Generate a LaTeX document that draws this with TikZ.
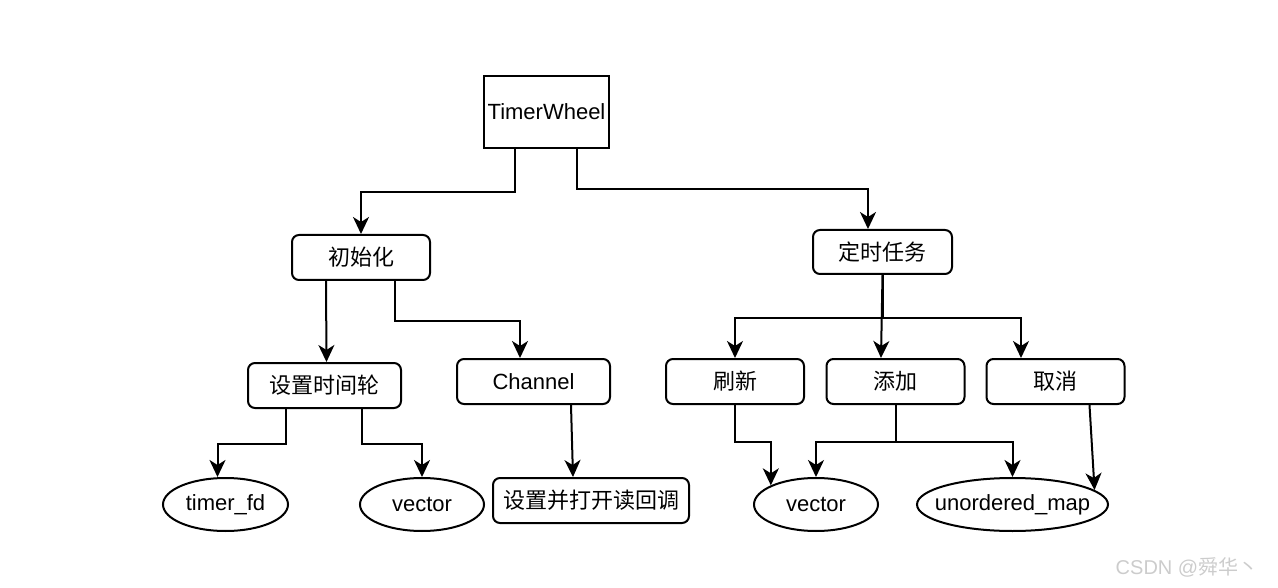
\documentclass[tikz,border=0pt]{standalone}
\usepackage{fontspec}
\setmainfont{Liberation Sans}
\newfontfamily\cjk{Noto Sans CJK SC}
\usetikzlibrary{arrows.meta,shapes.geometric}
\begin{document}
\begin{tikzpicture}[x=1pt,y=-1pt,
  every node/.style={font=\fontsize{22}{26}\selectfont, text=black},
  sqbox/.style={draw, line width=2pt, inner sep=0pt},
  box/.style={draw, line width=2pt, rounded corners=7pt, inner sep=0pt, minimum width=138pt, minimum height=45pt},
  oval/.style={draw, ellipse, line width=2pt, inner sep=0pt, minimum width=124pt, minimum height=53pt},
  conn/.style={line width=2pt, line join=miter, -{Stealth[length=17pt,width=16pt,inset=5pt]}}
]
\useasboundingbox (0,0) rectangle (1278,588);

\node[sqbox, minimum width=125pt, minimum height=72pt] (tw) at (546.5,112) {TimerWheel};
\node[box] (init) at (361,257.5) {\cjk 初始化};
\node[box, minimum width=139pt, minimum height=44pt] (task) at (882.5,252) {\cjk 定时任务};
\node[box, minimum width=153pt] (wheel) at (324.5,385.5) {\cjk 设置时间轮};
\node[box, minimum width=153pt] (chan) at (533.5,381.5) {Channel};
\node[box] (refresh) at (735,381.5) {\cjk 刷新};
\node[box] (add) at (895.5,381.5) {\cjk 添加};
\node[box] (cancel) at (1055.5,381.5) {\cjk 取消};
\node[oval, minimum width=125pt] (tfd) at (225.5,504.5) {\makebox[0pt]{timer\_fd}};
\node[oval] (vec1) at (422,504.5) {\makebox[0pt]{vector}};
\node[box, minimum width=196pt] (cb) at (591,500.5) {\cjk 设置并打开读回调};
\node[oval] (vec2) at (816,504.5) {\makebox[0pt]{vector}};
\node[oval, minimum width=191pt] (umap) at (1012.5,504.5) {\makebox[0pt]{unordered\_map}};
\node[text=gray!40, font=\fontsize{20}{24}\selectfont] (wm) at (1187,567) {CSDN @{\cjk 舜华丶}};

\draw[conn] ([xshift=32pt]tw.south west) -- ++(0,43) -| (init.north);
\draw[conn] ([xshift=94pt]tw.south west) -- ++(0,40) -| ([xshift=-14.5pt]task.north);
\draw[conn] ([xshift=35pt]init.south west) -- ([xshift=2pt]wheel.north);
\draw[conn] ([xshift=104pt]init.south west) -- ++(0,40) -| ([xshift=-13.5pt]chan.north);
\draw[conn] ([xshift=39pt]wheel.south west) -- ++(0,35) -| ([xshift=-8pt]tfd.north);
\draw[conn] ([xshift=115pt]wheel.south west) -- ++(0,35) -| (vec1.north);
\draw[conn] ([xshift=115pt]chan.south west) -- ([xshift=-18pt]cb.north);
\draw[conn] (task.south) -- ++(0,43) -| (refresh.north);
\draw[conn] (task.south) -- ++(0,43) -| ([xshift=-34.5pt]cancel.north);
\draw[conn] (task.south) -- ([xshift=-14.5pt]add.north);
\draw[conn] (refresh.south) -- ++(0,37) -| (vec2.157);
\draw[conn] (add.south) -- ++(0,37) -| (vec2.north);
\draw[conn] (add.south) -- ++(0,37) -| (umap.north);
\draw[conn] ([xshift=104pt]cancel.south west) -- (umap.10.6);
\end{tikzpicture}
\end{document}
